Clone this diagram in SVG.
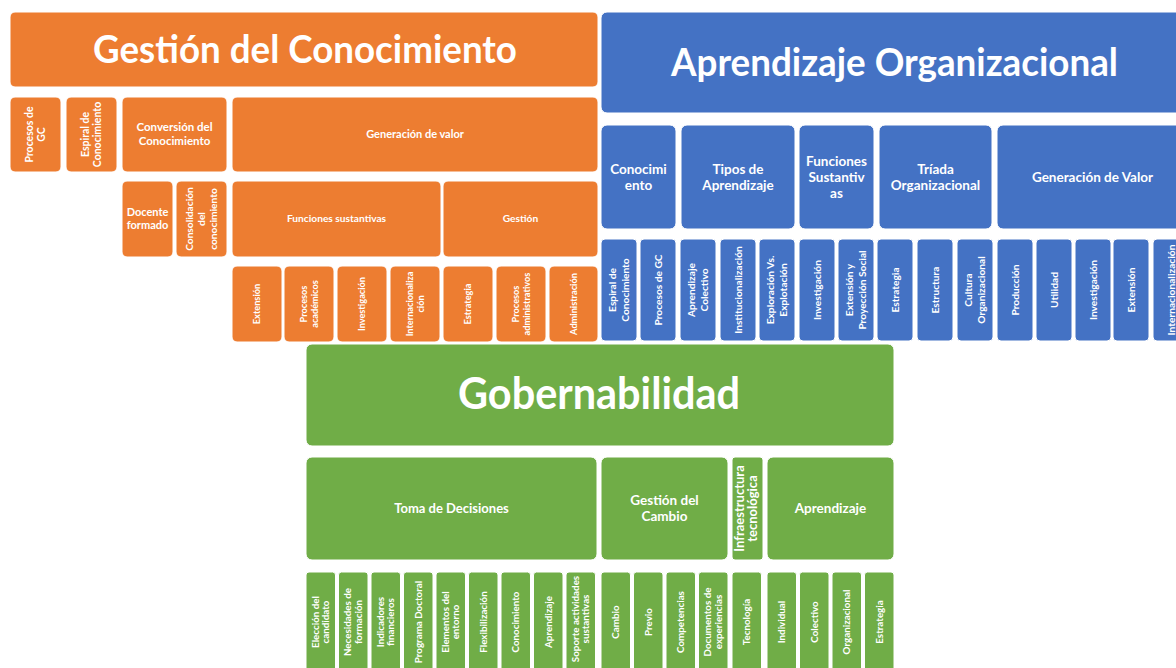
<svg xmlns="http://www.w3.org/2000/svg" width="1176" height="668" viewBox="0 0 1176 668">
<style>
.o{fill:#ED7D31}
.b{fill:#4472C4}
.g{fill:#70AD47}
rect{stroke:#fff;stroke-width:1}
text{fill:#fff;font-family:Lato,"Open Sans","Liberation Sans",sans-serif;font-weight:bold;text-anchor:middle}
.t{font-size:39px}
.f13{font-size:13.5px}
.f125{font-size:13px}
.f11{font-size:11.5px}
.f105{font-size:11px}
.f10{font-size:10.5px}
.f95{font-size:10.2px}
.f9{font-size:9.8px}
.f85{font-size:9.2px}
</style>
<rect width="1176" height="668" fill="#fff" stroke="none"/>
<g id="connectors"/>

<!-- Gestión del Conocimiento -->
<g id="gc">
<rect class="o" x="10" y="12" width="588" height="75" rx="5"/>
<text class="t" x="305" y="63" textLength="424" lengthAdjust="spacingAndGlyphs">Gestión del Conocimiento</text>
</g>
<g id="gc-procesos"><rect class="o" x="10" y="97" width="51" height="75" rx="5"/>
<text class="f10" transform="translate(35.5,134.5) rotate(-90)"><tspan x="0" y="-2.5">Procesos de</tspan><tspan x="0" y="9.8">GC</tspan></text></g>
<g id="gc-espiral"><rect class="o" x="66" y="97" width="51" height="75" rx="5"/>
<text class="f10" transform="translate(91.5,134.5) rotate(-90)"><tspan x="0" y="-2.5">Espiral de</tspan><tspan x="0" y="9.8">Conocimiento</tspan></text></g>
<g id="gc-conversion"><rect class="o" x="122" y="97" width="105" height="75" rx="5"/>
<text class="f11" transform="translate(174.5,134.5)"><tspan x="0" y="-3.2">Conversión del</tspan><tspan x="0" y="10.8">Conocimiento</tspan></text></g>
<g id="gc-generacion"><rect class="o" x="232" y="97" width="366" height="75" rx="5"/>
<text class="f105" x="415" y="138">Generación de valor</text></g>
<g id="gc-docente"><rect class="o" x="122" y="181" width="51" height="76" rx="5"/>
<text class="f105" transform="translate(147.5,219)"><tspan x="0" y="-2.8">Docente</tspan><tspan x="0" y="10.2">formado</tspan></text></g>
<g id="gc-consolidacion"><rect class="o" x="176" y="181" width="51" height="76" rx="5"/>
<text class="f95" transform="translate(201.5,219) rotate(-90)"><tspan x="0" y="-8.7">Consolidación</tspan><tspan x="0" y="3.3">del</tspan><tspan x="0" y="15.3">conocimiento</tspan></text></g>
<g id="gc-funciones"><rect class="o" x="232" y="181" width="209" height="76" rx="5"/>
<text class="f95" x="336.5" y="222.3">Funciones sustantivas</text></g>
<g id="gc-gestion"><rect class="o" x="443" y="181" width="155" height="76" rx="5"/>
<text class="f95" x="520.5" y="222.3">Gestión</text></g>
<g id="gc-extension"><rect class="o" x="232" y="266" width="50" height="76" rx="5"/>
<text class="f85" transform="translate(257,304) rotate(-90)"><tspan x="0" y="3.2">Extensión</tspan></text></g>
<g id="gc-academicos"><rect class="o" x="284" y="266" width="50" height="76" rx="5"/>
<text class="f85" transform="translate(309,304) rotate(-90)"><tspan x="0" y="-2">Procesos</tspan><tspan x="0" y="8.5">académicos</tspan></text></g>
<g id="gc-investigacion"><rect class="o" x="337" y="266" width="50" height="76" rx="5"/>
<text class="f85" transform="translate(362,304) rotate(-90)"><tspan x="0" y="3.2">Investigación</tspan></text></g>
<g id="gc-internacionalizacion"><rect class="o" x="390" y="266" width="50" height="76" rx="5"/>
<text class="f85" transform="translate(415,304) rotate(-90)"><tspan x="0" y="-2">Internacionaliza</tspan><tspan x="0" y="8.5">ción</tspan></text></g>
<g id="gc-estrategia"><rect class="o" x="443" y="266" width="50" height="76" rx="5"/>
<text class="f85" transform="translate(468,304) rotate(-90)"><tspan x="0" y="3.2">Estrategia</tspan></text></g>
<g id="gc-administrativos"><rect class="o" x="496" y="266" width="50" height="76" rx="5"/>
<text class="f85" transform="translate(521,304) rotate(-90)"><tspan x="0" y="-2">Procesos</tspan><tspan x="0" y="8.5">administrativos</tspan></text></g>
<g id="gc-administracion"><rect class="o" x="549" y="266" width="49" height="76" rx="5"/>
<text class="f85" transform="translate(573.5,304) rotate(-90)"><tspan x="0" y="3.2">Administración</tspan></text></g>

<!-- Aprendizaje Organizacional -->
<g id="ao">
<rect class="b" x="601" y="12" width="590" height="101" rx="6"/>
<text class="t" x="894.5" y="76" textLength="447" lengthAdjust="spacingAndGlyphs">Aprendizaje Organizacional</text>
</g>
<g id="ao-conocimiento"><rect class="b" x="601" y="125" width="75" height="104" rx="6"/>
<text class="f13" transform="translate(638.5,177)"><tspan x="0" y="-3.5">Conocimi</tspan><tspan x="0" y="12.5">ento</tspan></text></g>
<g id="ao-tipos"><rect class="b" x="681" y="125" width="114" height="104" rx="6"/>
<text class="f13" transform="translate(738,177)"><tspan x="0" y="-3.5">Tipos de</tspan><tspan x="0" y="12.5">Aprendizaje</tspan></text></g>
<g id="ao-funciones"><rect class="b" x="799" y="125" width="75" height="104" rx="6"/>
<text class="f13" transform="translate(836.5,177)"><tspan x="0" y="-11.5">Funciones</tspan><tspan x="0" y="4.5">Sustantiv</tspan><tspan x="0" y="20.5">as</tspan></text></g>
<g id="ao-triada"><rect class="b" x="879" y="125" width="113" height="104" rx="6"/>
<text class="f13" transform="translate(935.5,177)"><tspan x="0" y="-3.5">Tríada</tspan><tspan x="0" y="12.5">Organizacional</tspan></text></g>
<g id="ao-generacion"><rect class="b" x="997" y="125" width="191" height="104" rx="6"/>
<text class="f13" x="1092.5" y="181.5">Generación de Valor</text></g>

<g id="ao-espiral"><rect class="b" x="601" y="239" width="36" height="102" rx="4"/>
<text class="f95" transform="translate(619,290) rotate(-90)"><tspan x="0" y="-2.7">Espiral de</tspan><tspan x="0" y="9.6">Conocimiento</tspan></text></g>
<g id="ao-procesos"><rect class="b" x="640" y="239" width="36" height="102" rx="4"/>
<text class="f95" transform="translate(658,290) rotate(-90)"><tspan x="0" y="3.5">Procesos de GC</tspan></text></g>
<g id="ao-colectivo"><rect class="b" x="680" y="239" width="36" height="102" rx="4"/>
<text class="f95" transform="translate(698,290) rotate(-90)"><tspan x="0" y="-2.7">Aprendizaje</tspan><tspan x="0" y="9.6">Colectivo</tspan></text></g>
<g id="ao-institucionalizacion"><rect class="b" x="720" y="239" width="36" height="102" rx="4"/>
<text class="f95" transform="translate(738,290) rotate(-90)"><tspan x="0" y="3.5">Institucionalización</tspan></text></g>
<g id="ao-exploracion"><rect class="b" x="759" y="239" width="36" height="102" rx="4"/>
<text class="f95" transform="translate(777,290) rotate(-90)"><tspan x="0" y="-2.7">Exploración Vs.</tspan><tspan x="0" y="9.6">Explotación</tspan></text></g>
<g id="ao-investigacion"><rect class="b" x="799" y="239" width="36" height="102" rx="4"/>
<text class="f95" transform="translate(817,290) rotate(-90)"><tspan x="0" y="3.5">Investigación</tspan></text></g>
<g id="ao-extension-proyeccion"><rect class="b" x="838" y="239" width="36" height="102" rx="4"/>
<text class="f95" transform="translate(856,290) rotate(-90)"><tspan x="0" y="-2.7">Extensión y</tspan><tspan x="0" y="9.6">Proyección Social</tspan></text></g>
<g id="ao-estrategia"><rect class="b" x="877" y="239" width="36" height="102" rx="4"/>
<text class="f95" transform="translate(895,290) rotate(-90)"><tspan x="0" y="3.5">Estrategia</tspan></text></g>
<g id="ao-estructura"><rect class="b" x="917" y="239" width="36" height="102" rx="4"/>
<text class="f95" transform="translate(935,290) rotate(-90)"><tspan x="0" y="3.5">Estructura</tspan></text></g>
<g id="ao-cultura"><rect class="b" x="957" y="239" width="36" height="102" rx="4"/>
<text class="f95" transform="translate(975,290) rotate(-90)"><tspan x="0" y="-2.7">Cultura</tspan><tspan x="0" y="9.6">Organizacional</tspan></text></g>
<g id="ao-produccion"><rect class="b" x="997" y="239" width="36" height="102" rx="4"/>
<text class="f95" transform="translate(1015,290) rotate(-90)"><tspan x="0" y="3.5">Producción</tspan></text></g>
<g id="ao-utilidad"><rect class="b" x="1036" y="239" width="36" height="102" rx="4"/>
<text class="f95" transform="translate(1054,290) rotate(-90)"><tspan x="0" y="3.5">Utilidad</tspan></text></g>
<g id="ao-investigacion2"><rect class="b" x="1075" y="239" width="36" height="102" rx="4"/>
<text class="f95" transform="translate(1093,290) rotate(-90)"><tspan x="0" y="3.5">Investigación</tspan></text></g>
<g id="ao-extension"><rect class="b" x="1113" y="239" width="36" height="102" rx="4"/>
<text class="f95" transform="translate(1131,290) rotate(-90)"><tspan x="0" y="3.5">Extensión</tspan></text></g>
<g id="ao-internacionalizacion"><rect class="b" x="1153" y="239" width="36" height="102" rx="4"/>
<text class="f95" transform="translate(1171,290) rotate(-90)"><tspan x="0" y="3.5">Internacionalización</tspan></text></g>

<!-- Gobernabilidad -->
<g id="gob">
<rect class="g" x="306" y="344" width="588" height="102" rx="6"/>
<text x="599" y="409" textLength="282" lengthAdjust="spacingAndGlyphs" style="font-size:43px">Gobernabilidad</text>
</g>
<g id="gob-toma"><rect class="g" x="306" y="457" width="291" height="103" rx="6"/>
<text class="f125" x="451.5" y="512.5">Toma de Decisiones</text></g>
<g id="gob-cambio"><rect class="g" x="601" y="457" width="127" height="103" rx="6"/>
<text class="f13" transform="translate(664.5,508.5)"><tspan x="0" y="-3.5">Gestión del</tspan><tspan x="0" y="12.5">Cambio</tspan></text></g>
<g id="gob-infra"><rect class="g" x="732" y="457" width="31" height="103" rx="3"/>
<text class="f125" transform="translate(747.5,508.5) rotate(-90)"><tspan x="0" y="-3.1">Infraestructura</tspan><tspan x="0" y="9.9">tecnológica</tspan></text></g>
<g id="gob-aprendizaje"><rect class="g" x="767" y="457" width="127" height="103" rx="6"/>
<text class="f13" x="830.5" y="513">Aprendizaje</text></g>

<g id="gob-eleccion"><rect class="g" x="306" y="572" width="29.5" height="100" rx="3"/>
<text class="f9" transform="translate(320.75,622) rotate(-90)"><tspan x="0" y="-2.2">Elección del</tspan><tspan x="0" y="8.6">candidato</tspan></text></g>
<g id="gob-necesidades"><rect class="g" x="338.5" y="572" width="29.5" height="100" rx="3"/>
<text class="f9" transform="translate(353.25,622) rotate(-90)"><tspan x="0" y="-2.2">Necesidades de</tspan><tspan x="0" y="8.6">formación</tspan></text></g>
<g id="gob-indicadores"><rect class="g" x="371" y="572" width="29.5" height="100" rx="3"/>
<text class="f9" transform="translate(385.75,622) rotate(-90)"><tspan x="0" y="-2.2">Indicadores</tspan><tspan x="0" y="8.6">financieros</tspan></text></g>
<g id="gob-programa"><rect class="g" x="403.5" y="572" width="29.5" height="100" rx="3"/>
<text class="f9" transform="translate(418.25,622) rotate(-90)"><tspan x="0" y="3.4">Programa Doctoral</tspan></text></g>
<g id="gob-elementos"><rect class="g" x="436" y="572" width="29.5" height="100" rx="3"/>
<text class="f9" transform="translate(450.75,622) rotate(-90)"><tspan x="0" y="-2.2">Elementos del</tspan><tspan x="0" y="8.6">entorno</tspan></text></g>
<g id="gob-flexibilizacion"><rect class="g" x="468.5" y="572" width="29.5" height="100" rx="3"/>
<text class="f9" transform="translate(483.25,622) rotate(-90)"><tspan x="0" y="3.4">Flexibilización</tspan></text></g>
<g id="gob-conocimiento"><rect class="g" x="501" y="572" width="29.5" height="100" rx="3"/>
<text class="f9" transform="translate(515.75,622) rotate(-90)"><tspan x="0" y="3.4">Conocimiento</tspan></text></g>
<g id="gob-aprendizaje2"><rect class="g" x="533.5" y="572" width="29.5" height="100" rx="3"/>
<text class="f9" transform="translate(548.25,622) rotate(-90)"><tspan x="0" y="3.4">Aprendizaje</tspan></text></g>
<g id="gob-soporte"><rect class="g" x="566" y="572" width="29.5" height="100" rx="3"/>
<text class="f9" transform="translate(580.75,619) rotate(-90)"><tspan x="0" y="-2.2">Soporte actividades</tspan><tspan x="0" y="8.6">sustantivas</tspan></text></g>
<g id="gob-cambio2"><rect class="g" x="601" y="572" width="29.5" height="100" rx="3"/>
<text class="f9" transform="translate(615.75,622) rotate(-90)"><tspan x="0" y="3.4">Cambio</tspan></text></g>
<g id="gob-previo"><rect class="g" x="633.5" y="572" width="29.5" height="100" rx="3"/>
<text class="f9" transform="translate(648.25,622) rotate(-90)"><tspan x="0" y="3.4">Previo</tspan></text></g>
<g id="gob-competencias"><rect class="g" x="666" y="572" width="29.5" height="100" rx="3"/>
<text class="f9" transform="translate(680.75,622) rotate(-90)"><tspan x="0" y="3.4">Competencias</tspan></text></g>
<g id="gob-documentos"><rect class="g" x="698.5" y="572" width="29.5" height="100" rx="3"/>
<text class="f9" transform="translate(713.25,622) rotate(-90)"><tspan x="0" y="-2.2">Documentos de</tspan><tspan x="0" y="8.6">experiencias</tspan></text></g>
<g id="gob-tecnologia"><rect class="g" x="732" y="572" width="29.5" height="100" rx="3"/>
<text class="f9" transform="translate(746.75,622) rotate(-90)"><tspan x="0" y="3.4">Tecnología</tspan></text></g>
<g id="gob-individual"><rect class="g" x="767" y="572" width="29.5" height="100" rx="3"/>
<text class="f9" transform="translate(781.75,622) rotate(-90)"><tspan x="0" y="3.4">Individual</tspan></text></g>
<g id="gob-colectivo"><rect class="g" x="799.5" y="572" width="29.5" height="100" rx="3"/>
<text class="f9" transform="translate(814.25,622) rotate(-90)"><tspan x="0" y="3.4">Colectivo</tspan></text></g>
<g id="gob-organizacional"><rect class="g" x="832" y="572" width="29.5" height="100" rx="3"/>
<text class="f9" transform="translate(846.75,622) rotate(-90)"><tspan x="0" y="3.4">Organizacional</tspan></text></g>
<g id="gob-estrategia"><rect class="g" x="864.5" y="572" width="29.5" height="100" rx="3"/>
<text class="f9" transform="translate(879.25,622) rotate(-90)"><tspan x="0" y="3.4">Estrategia</tspan></text></g>
</svg>
